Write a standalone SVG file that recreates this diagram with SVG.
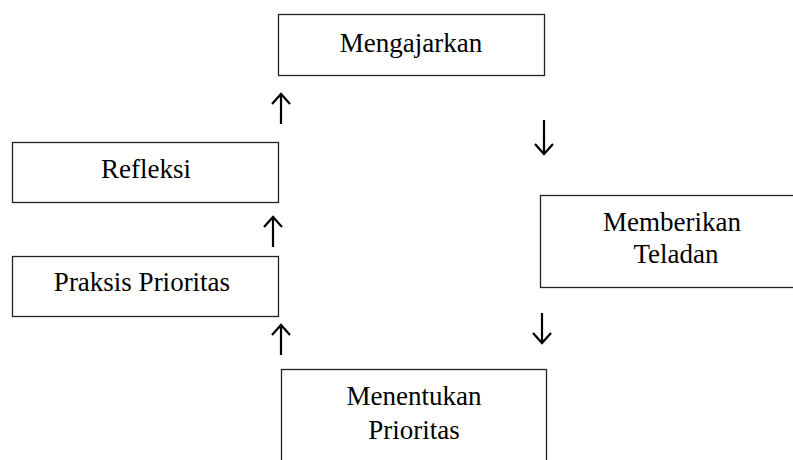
<svg xmlns="http://www.w3.org/2000/svg" width="793" height="460" viewBox="0 0 793 460">
<style>
.box{fill:#fff;stroke:#222;stroke-width:1.3}
.lbl{font-family:"Liberation Serif","Times New Roman",serif;font-size:27px;fill:#000;text-anchor:middle}
.arr{fill:none;stroke:#000;stroke-width:2.2;stroke-linecap:butt;stroke-linejoin:miter}
</style>
<rect width="793" height="460" fill="#fff"/>
<g id="mengajarkan">
<rect class="box" x="278.5" y="14.5" width="266" height="61"/>
<text class="lbl" x="411" y="52">Mengajarkan</text>
</g>
<g id="refleksi">
<rect class="box" x="12.5" y="142.5" width="266" height="60"/>
<text class="lbl" x="146" y="178">Refleksi</text>
</g>
<g id="praksis">
<rect class="box" x="12.5" y="256.5" width="266" height="60"/>
<text class="lbl" x="142" y="291">Praksis Prioritas</text>
</g>
<g id="memberikan">
<rect class="box" x="540.5" y="195.5" width="262" height="92"/>
<text class="lbl" x="672" y="231">Memberikan</text>
<text class="lbl" x="676" y="263">Teladan</text>
</g>
<g id="menentukan">
<rect class="box" x="281.5" y="369.5" width="265" height="100"/>
<text class="lbl" x="414" y="405">Menentukan</text>
<text class="lbl" x="414" y="439">Prioritas</text>
</g>
<g id="connectors">
<path class="arr" d="M281 124V94M272 104L281 94L290 104"/>
<path class="arr" d="M273 247V217M264 227L273 217L282 227"/>
<path class="arr" d="M281 355V325M272 335L281 325L290 335"/>
<path class="arr" d="M544 120V154M535 144L544 154L553 144"/>
<path class="arr" d="M542 313V343M533 333L542 343L551 333"/>
</g>
</svg>
